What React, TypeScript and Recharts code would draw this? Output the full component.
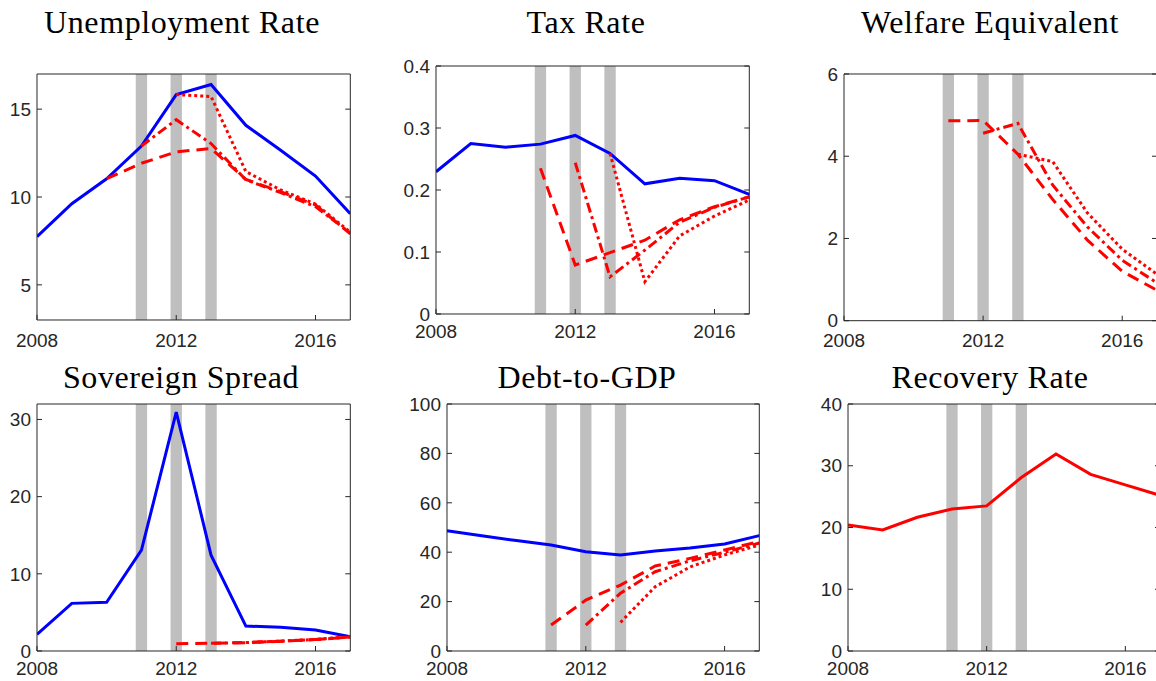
import React from 'react';
import { LineChart, Line, XAxis, YAxis, ReferenceArea } from 'recharts';

// ---------- data ----------
const years = [2008, 2009, 2010, 2011, 2012, 2013, 2014, 2015, 2016, 2017];
const xTicks = [2008, 2012, 2016];
const crisisYears = [2011, 2012, 2013];
const crisisHalfWidth = 0.163;

type V = number | null;

// Unemployment Rate
const unempData: V[] = [7.75, 9.62, 11.04, 12.9, 15.83, 16.4, 14.08, 12.66, 11.19, 9.05];
const unempA: V[] = [null, null, 11.04, 11.92, 12.57, 12.76, 11.0, 10.3, 9.55, 7.9];
const unempB: V[] = [null, null, null, 12.9, 14.4, 13.04, 10.98, 10.25, 9.45, 7.95];
const unempC: V[] = [null, null, null, null, 15.83, 15.72, 11.45, 10.4, 9.6, 8.0];
const unempTicks = [5, 10, 15];

// Tax Rate
const taxData: V[] = [0.2295, 0.275, 0.269, 0.274, 0.288, 0.259, 0.21, 0.219, 0.215, 0.193];
const taxA: V[] = [null, null, null, 0.235, 0.079, 0.099, 0.119, 0.152, 0.173, 0.189];
const taxB: V[] = [null, null, null, null, 0.244, 0.06, 0.103, 0.148, 0.172, 0.189];
const taxC: V[] = [null, null, null, null, null, 0.259, 0.052, 0.126, 0.158, 0.184];
const taxTicks = [0, 0.1, 0.2, 0.3, 0.4];

// Welfare Equivalent
const welfA: V[] = [null, null, null, 4.86, 4.87, 4.05, 2.95, 1.96, 1.2, 0.74];
const welfB: V[] = [null, null, null, null, 4.56, 4.8, 3.3, 2.28, 1.47, 0.92];
const welfC: V[] = [null, null, null, null, null, 4.05, 3.87, 2.62, 1.74, 1.13];
const welfTicks = [0, 2, 4, 6];

// Sovereign Spread
const spreadData: V[] = [2.16, 6.17, 6.3, 13.07, 30.96, 12.42, 3.23, 3.07, 2.72, 1.85];
const spreadA: V[] = [null, null, null, null, 0.95, 1.0, 1.08, 1.25, 1.48, 1.8];
const spreadB: V[] = [null, null, null, null, null, 1.0, 1.1, 1.27, 1.5, 1.82];
const spreadC: V[] = [null, null, null, null, null, null, 1.1, 1.28, 1.5, 1.85];
const spreadTicks = [0, 10, 20, 30];

// Debt-to-GDP
const debtData: V[] = [48.7, 46.7, 44.7, 42.9, 40.2, 38.9, 40.5, 41.7, 43.3, 46.7];
const debtA: V[] = [null, null, null, 10.5, 20.6, 26.7, 34.4, 37.5, 40.9, 44.3];
const debtB: V[] = [null, null, null, null, 10.5, 23.4, 32.1, 36.5, 40.0, 43.7];
const debtC: V[] = [null, null, null, null, null, 11.6, 26.0, 34.0, 38.9, 42.9];
const debtTicks = [0, 20, 40, 60, 80, 100];

// Recovery Rate
const recoveryData: V[] = [20.4, 19.6, 21.65, 23.0, 23.5, 28.1, 31.9, 28.6, 26.9, 25.2];
const recoveryTicks = [0, 10, 20, 30, 40];

// ---------- styling ----------
const AXIS = '#262626';
const TICK_FONT = { fill: AXIS, fontSize: 19, fontFamily: '"Liberation Sans", Arial, Helvetica, sans-serif' };
const GRAY = '#bfbfbf';

type PanelSpec = {
  title: string;
  titleX: number;
  titleY: number;
  left: number;
  top: number;
  w: number;
  h: number;
  xGap: number;
  yDomain: [number, number];
  yTicks: number[];
  base?: V[];
  baseColor?: string;
  a?: V[];
  b?: V[];
  c?: V[];
};

const panels: PanelSpec[] = [
  { title: 'Unemployment Rate', titleX: 182, titleY: 33, left: 36.7, top: 74, w: 313.3, h: 246, xGap: 13.3,
    yDomain: [3, 17], yTicks: unempTicks, base: unempData, baseColor: '#0000ff', a: unempA, b: unempB, c: unempC },
  { title: 'Tax Rate', titleX: 586, titleY: 33, left: 435.7, top: 66, w: 313.3, h: 248, xGap: 10.3,
    yDomain: [0, 0.4], yTicks: taxTicks, base: taxData, baseColor: '#0000ff', a: taxA, b: taxB, c: taxC },
  { title: 'Welfare Equivalent', titleX: 990, titleY: 33, left: 843.5, top: 74, w: 313, h: 246.7, xGap: 12.6,
    yDomain: [0, 6], yTicks: welfTicks, a: welfA, b: welfB, c: welfC },
  { title: 'Sovereign Spread', titleX: 181, titleY: 388, left: 36.7, top: 404, w: 313.3, h: 247, xGap: 10.3,
    yDomain: [0, 32], yTicks: spreadTicks, base: spreadData, baseColor: '#0000ff', a: spreadA, b: spreadB, c: spreadC },
  { title: 'Debt-to-GDP', titleX: 587, titleY: 388, left: 446.7, top: 404, w: 312.3, h: 247, xGap: 10.3,
    yDomain: [0, 100], yTicks: debtTicks, base: debtData, baseColor: '#0000ff', a: debtA, b: debtB, c: debtC },
  { title: 'Recovery Rate', titleX: 990, titleY: 388, left: 847.5, top: 404, w: 312, h: 247, xGap: 10.3,
    yDomain: [0, 40], yTicks: recoveryTicks, base: recoveryData, baseColor: '#ff0000' },
];

const PAD_L = 40;
const PAD_T = 10;
const PAD_R = 10;
const PAD_B = 40;

function Panel({ p }: { p: PanelSpec }) {
  const data = years.map((yr, i) => ({
    year: yr,
    base: p.base ? p.base[i] : null,
    a: p.a ? p.a[i] : null,
    b: p.b ? p.b[i] : null,
    c: p.c ? p.c[i] : null,
  }));
  return (
    <div style={{ position: 'absolute', left: p.left - PAD_L, top: p.top - PAD_T }}>
      <LineChart
        width={p.w + PAD_L + PAD_R}
        height={p.h + PAD_T + PAD_B}
        data={data}
        margin={{ top: PAD_T - 1, right: PAD_R - 1, left: 0, bottom: 0 }}
      >
        {crisisYears.map((cy) => (
          <ReferenceArea
            key={cy}
            x1={cy - crisisHalfWidth}
            x2={cy + crisisHalfWidth}
            y1={p.yDomain[0]}
            y2={p.yDomain[1]}
            fill={GRAY}
            fillOpacity={1}
            stroke="none"
          />
        ))}
        <XAxis
          dataKey="year"
          type="number"
          domain={[2008, 2017]}
          ticks={xTicks}
          interval={0}
          height={PAD_B}
          tickSize={-5}
          tickMargin={p.xGap + 5}
          stroke={AXIS}
          tick={TICK_FONT}
          allowDataOverflow
        />
        <XAxis
          xAxisId="top"
          orientation="top"
          type="number"
          domain={[2008, 2017]}
          ticks={xTicks}
          interval={0}
          height={1}
          tickSize={-5}
          tickFormatter={() => ''}
          stroke={AXIS}
          allowDataOverflow
        />
        <YAxis
          type="number"
          domain={p.yDomain}
          ticks={p.yTicks}
          interval={0}
          width={PAD_L}
          tickSize={-5}
          tickMargin={11}
          stroke={AXIS}
          tick={TICK_FONT}
          allowDataOverflow
        />
        <YAxis
          yAxisId="right"
          orientation="right"
          type="number"
          domain={p.yDomain}
          ticks={p.yTicks}
          interval={0}
          width={1}
          tickSize={-5}
          tickFormatter={() => ''}
          stroke={AXIS}
          allowDataOverflow
        />
        {p.base && (
          <Line dataKey="base" type="linear" stroke={p.baseColor} strokeWidth={3} dot={false}
            isAnimationActive={false} connectNulls={false} />
        )}
        {p.a && (
          <Line dataKey="a" type="linear" stroke="#ff0000" strokeWidth={3} strokeDasharray="12 7" dot={false}
            isAnimationActive={false} connectNulls={false} />
        )}
        {p.b && (
          <Line dataKey="b" type="linear" stroke="#ff0000" strokeWidth={3} strokeDasharray="10 4 3 4" dot={false}
            isAnimationActive={false} connectNulls={false} />
        )}
        {p.c && (
          <Line dataKey="c" type="linear" stroke="#ff0000" strokeWidth={3} strokeDasharray="3 3" dot={false}
            isAnimationActive={false} connectNulls={false} />
        )}
      </LineChart>
    </div>
  );
}

export default function App() {
  return (
    <div
      style={{
        position: 'absolute',
        left: 0,
        top: 0,
        width: 1156,
        height: 681,
        overflow: 'hidden',
        background: '#ffffff',
      }}
    >
      {panels.map((p) => (
        <Panel key={p.title} p={p} />
      ))}
      <svg width={1156} height={681} style={{ position: 'absolute', left: 0, top: 0, pointerEvents: 'none' }}>
        {panels.map((p) => (
          <text
            key={p.title}
            x={p.titleX}
            y={p.titleY}
            textAnchor="middle"
            fontFamily='"Liberation Serif", "Times New Roman", serif'
            fontSize={32}
            letterSpacing={0.6}
            fill="#000000"
          >
            {p.title}
          </text>
        ))}
      </svg>
    </div>
  );
}
